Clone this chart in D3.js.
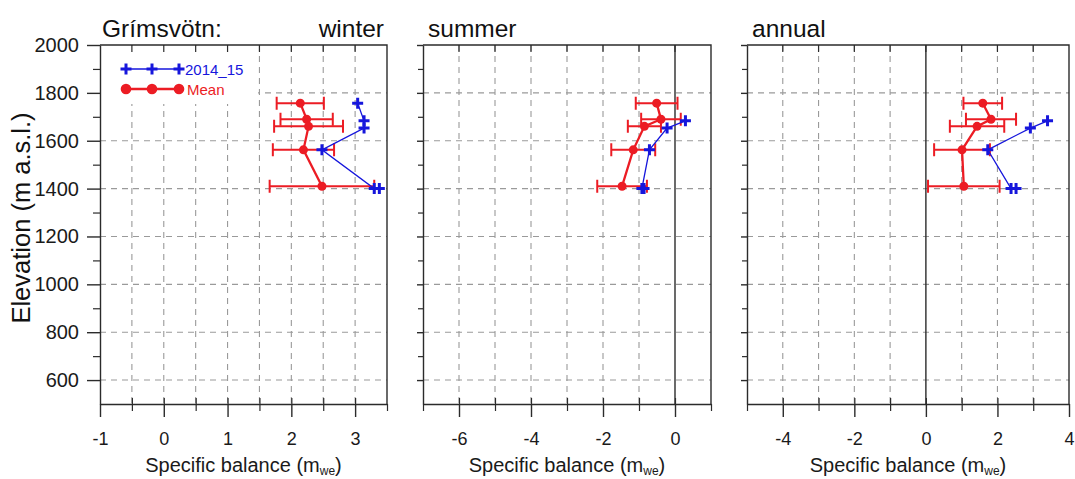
<!DOCTYPE html>
<html>
<head>
<meta charset="utf-8">
<script src="https://cdn.jsdelivr.net/npm/d3@7"></script>
<style>
  body { margin: 0; background: #fff; }
  svg { display: block; }
  text { font-family: "Liberation Sans", Arial, sans-serif; }
</style>
</head>
<body>
<svg id="chart" width="1075" height="479"></svg>
<script>
// Mean balance profile (all years) with standard deviation
const meanElevation = [1757, 1690, 1660, 1562, 1410];
const winterMean = [2.14, 2.24, 2.27, 2.19, 2.48];
const winterSd   = [0.37, 0.41, 0.54, 0.48, 0.82];
const summerMean = [-0.51, -0.39, -0.85, -1.16, -1.47];
const summerSd   = [0.58, 0.55, 0.46, 0.61, 0.69];
const annualMean = [1.59, 1.82, 1.43, 1.01, 1.06];
const annualSd   = [0.54, 0.70, 0.76, 0.78, 1.00];

// 2014_15 stake measurements
const winterElevation = [1757, 1683, 1653, 1562, 1400, 1400];
const winter2014      = [3.04, 3.14, 3.14, 2.48, 3.30, 3.38];
const yearElevation   = [1683, 1653, 1562, 1400, 1400];
const summer2014      = [0.29, -0.22, -0.71, -0.92, -0.86];
const annual2014      = [3.40, 2.92, 1.73, 2.38, 2.52];

// Axis ticks and labels
const elevationTicks = [600, 800, 1000, 1200, 1400, 1600, 1800, 2000];
const winterTicks = [-1, 0, 1, 2, 3];
const summerTicks = [-6, -4, -2, 0];
const annualTicks = [-4, -2, 0, 2, 4];
const seriesNames = ["2014_15", "Mean"];
const panelTitles = ["winter", "summer", "annual"];
const glacierName = "Grímsvötn:";

const BLUE = "#1616dc";
const RED = "#ec1c24";
const FRAME = "#2b2b2b";
const GRID = "#9a9a9a";

const svg = d3.select("#chart");
const plotTop = 45, plotBottom = 404;
const y = d3.scaleLinear().domain([500, 2000]).range([plotBottom, plotTop]);

const panels = [
  { title: panelTitles[0], domain: [-1, 3.5], range: [100, 387], step: 0.5, ticks: winterTicks,
    zero: false, yLabels: true,
    mean: winterMean, sd: winterSd, obsElev: winterElevation, obs: winter2014 },
  { title: panelTitles[1], domain: [-7, 1], range: [423, 711], step: 1, ticks: summerTicks,
    zero: true, yLabels: false,
    mean: summerMean, sd: summerSd, obsElev: yearElevation, obs: summer2014 },
  { title: panelTitles[2], domain: [-5, 4], range: [747, 1069], step: 1, ticks: annualTicks,
    zero: true, yLabels: false,
    mean: annualMean, sd: annualSd, obsElev: yearElevation, obs: annual2014 }
];

const crossPath = s => `M${-s},0H${s}M0,${-s}V${s}`;

panels.forEach((p, i) => {
  const x = d3.scaleLinear().domain(p.domain).range(p.range);
  const g = svg.append("g");
  const [x0, x1] = p.range;

  // every grid position along x
  const n = Math.round((p.domain[1] - p.domain[0]) / p.step);
  const xAll = d3.range(0, n + 1).map(k => +(p.domain[0] + k * p.step).toFixed(3));
  const xInner = xAll.filter(v => v > p.domain[0] && v < p.domain[1]);
  const xMinor = xAll.filter(v => !p.ticks.includes(v));

  // dashed grid
  g.append("g").selectAll("line").data(xInner.filter(v => !(p.zero && v === 0))).join("line")
    .attr("x1", d => x(d)).attr("x2", d => x(d)).attr("y1", plotTop).attr("y2", plotBottom)
    .attr("stroke", GRID).attr("stroke-width", 1.1).attr("stroke-dasharray", "6,5");
  g.append("g").selectAll("line").data(elevationTicks.filter(v => v < 2000)).join("line")
    .attr("x1", x0).attr("x2", x1).attr("y1", d => y(d)).attr("y2", d => y(d))
    .attr("stroke", GRID).attr("stroke-width", 1.1).attr("stroke-dasharray", "6,5");

  if (p.zero) {
    g.append("line").attr("x1", x(0)).attr("x2", x(0)).attr("y1", plotTop).attr("y2", plotBottom)
      .attr("stroke", FRAME).attr("stroke-width", 1.4);
  }

  // legend background in the first panel
  if (i === 0) {
    g.append("rect").attr("x", x0 + 1).attr("y", plotTop + 1).attr("width", 157).attr("height", 58)
      .attr("fill", "#fff");
  }

  // frame: top and right edges
  g.append("path").attr("d", `M${x0},${plotTop}H${x1}V${plotBottom}`)
    .attr("fill", "none").attr("stroke", FRAME).attr("stroke-width", 1.4);

  // top inward ticks
  g.append("g").selectAll("line").data(xInner).join("line")
    .attr("x1", d => x(d)).attr("x2", d => x(d)).attr("y1", plotTop).attr("y2", plotTop + 7)
    .attr("stroke", FRAME).attr("stroke-width", 1.2);

  // bottom axis
  const fmt = d => String(d);
  const bAxis = g.append("g").attr("transform", `translate(0,${plotBottom})`)
    .call(d3.axisBottom(x).tickValues(p.ticks).tickSize(13).tickSizeOuter(0).tickPadding(15).tickFormat(fmt));
  bAxis.select(".domain").attr("stroke", FRAME).attr("stroke-width", 1.4);
  bAxis.selectAll(".tick line").attr("stroke", FRAME).attr("stroke-width", 1.4);
  bAxis.selectAll(".tick text").attr("font-size", 18).attr("fill", "#1a1a1a")
    .attr("font-family", "Liberation Sans, Arial, sans-serif");
  const bMinor = g.append("g").attr("transform", `translate(0,${plotBottom})`)
    .call(d3.axisBottom(x).tickValues(xMinor).tickSize(7).tickSizeOuter(0).tickFormat(""));
  bMinor.select(".domain").remove();
  bMinor.selectAll(".tick line").attr("stroke", FRAME).attr("stroke-width", 1.2);
  const bInner = g.append("g").attr("transform", `translate(0,${plotBottom})`)
    .call(d3.axisTop(x).tickValues(xInner).tickSize(6).tickSizeOuter(0).tickFormat(""));
  bInner.select(".domain").remove();
  bInner.selectAll(".tick line").attr("stroke", FRAME).attr("stroke-width", 1.2);

  // left axis
  const majorLen = p.yLabels ? 13 : 6;
  const minorLen = p.yLabels ? 7 : 5;
  const lAxis = g.append("g").attr("transform", `translate(${x0},0)`)
    .call(d3.axisLeft(y).tickValues(elevationTicks).tickSize(majorLen).tickSizeOuter(0)
      .tickPadding(8).tickFormat(p.yLabels ? fmt : ""));
  lAxis.select(".domain").attr("stroke", FRAME).attr("stroke-width", 1.4);
  lAxis.selectAll(".tick line").attr("stroke", FRAME).attr("stroke-width", 1.4);
  lAxis.selectAll(".tick text").attr("font-size", 20).attr("fill", "#1a1a1a")
    .attr("font-family", "Liberation Sans, Arial, sans-serif");
  const minorElev = d3.range(500, 2001, 100).filter(v => !elevationTicks.includes(v) && v > 500);
  const lMinor = g.append("g").attr("transform", `translate(${x0},0)`)
    .call(d3.axisLeft(y).tickValues(minorElev).tickSize(minorLen).tickSizeOuter(0).tickFormat(""));
  lMinor.select(".domain").remove();
  lMinor.selectAll(".tick line").attr("stroke", FRAME).attr("stroke-width", 1.2);

  // axis title
  const xt = g.append("text").attr("x", (x0 + x1) / 2).attr("y", 472)
    .attr("text-anchor", "middle").attr("font-size", 20).attr("fill", "#1a1a1a");
  xt.append("tspan").text("Specific balance (m");
  xt.append("tspan").text("we").attr("font-size", 12).attr("dy", 3);
  xt.append("tspan").text(")").attr("dy", -3);

  // panel title
  if (i === 0) {
    g.append("text").attr("x", 102).attr("y", 37).attr("font-size", 24.5).attr("fill", "#111")
      .text(glacierName);
    g.append("text").attr("x", 384).attr("y", 37).attr("font-size", 24.5).attr("fill", "#111")
      .attr("text-anchor", "end").text(p.title);
  } else {
    g.append("text").attr("x", x0 + 5).attr("y", 37).attr("font-size", 24.5).attr("fill", "#111")
      .text(p.title);
  }

  // mean with error bars
  const meanPts = p.mean.map((v, k) => ({ v, e: meanElevation[k], sd: p.sd[k] }));
  const eb = g.append("g").attr("stroke", RED).attr("stroke-width", 2).attr("fill", "none");
  eb.selectAll("path").data(meanPts).join("path")
    .attr("d", d => {
      const xl = x(d.v - d.sd), xr = x(d.v + d.sd), yy = y(d.e);
      return `M${xl},${yy}H${xr}M${xl},${yy - 6.5}V${yy + 6.5}M${xr},${yy - 6.5}V${yy + 6.5}`;
    });
  g.append("path").datum(meanPts)
    .attr("d", d3.line().x(d => x(d.v)).y(d => y(d.e)))
    .attr("fill", "none").attr("stroke", RED).attr("stroke-width", 2.3);
  g.append("g").selectAll("circle").data(meanPts).join("circle")
    .attr("cx", d => x(d.v)).attr("cy", d => y(d.e)).attr("r", 4.5).attr("fill", RED);

  // 2014_15 observations
  const obsPts = p.obs.map((v, k) => ({ v, e: p.obsElev[k] }));
  g.append("path").datum(obsPts)
    .attr("d", d3.line().x(d => x(d.v)).y(d => y(d.e)))
    .attr("fill", "none").attr("stroke", BLUE).attr("stroke-width", 1.3);
  g.append("g").selectAll("path").data(obsPts).join("path")
    .attr("transform", d => `translate(${x(d.v)},${y(d.e)})`)
    .attr("d", crossPath(5.5)).attr("stroke", BLUE).attr("stroke-width", 3).attr("fill", "none");

  // legend
  if (i === 0) {
    const lx = [126, 152, 179];
    const lg = g.append("g");
    lg.append("line").attr("x1", lx[0]).attr("x2", lx[2]).attr("y1", 69).attr("y2", 69)
      .attr("stroke", BLUE).attr("stroke-width", 1.6);
    lg.selectAll("path.m").data(lx).join("path").attr("class", "m")
      .attr("transform", d => `translate(${d},69)`).attr("d", crossPath(5.5))
      .attr("stroke", BLUE).attr("stroke-width", 3);
    lg.append("text").attr("x", 185).attr("y", 75).attr("font-size", 15).attr("fill", BLUE)
      .text(seriesNames[0]);
    lg.append("line").attr("x1", lx[0]).attr("x2", lx[2]).attr("y1", 89).attr("y2", 89)
      .attr("stroke", RED).attr("stroke-width", 2.3);
    lg.selectAll("circle").data(lx).join("circle")
      .attr("cx", d => d).attr("cy", 89).attr("r", 5.3).attr("fill", RED);
    lg.append("text").attr("x", 187).attr("y", 95).attr("font-size", 15).attr("fill", RED)
      .text(seriesNames[1]);
  }
});

// y-axis title
svg.append("text").attr("transform", "translate(30,218) rotate(-90)")
  .attr("text-anchor", "middle").attr("font-size", 25.5).attr("fill", "#111")
  .text("Elevation (m a.s.l.)");
</script>
</body>
</html>
